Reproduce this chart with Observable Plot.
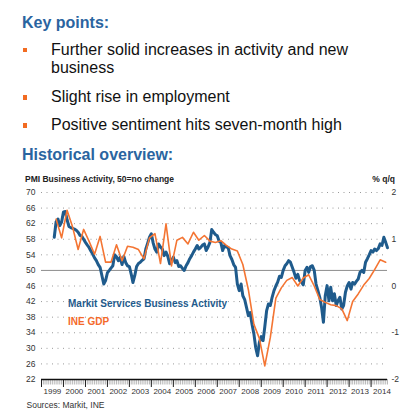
<!DOCTYPE html>
<html><head><meta charset="utf-8">
<script src="https://cdn.jsdelivr.net/npm/d3@7"></script>
<script src="https://cdn.jsdelivr.net/npm/@observablehq/plot@0.6"></script>
<style>
html,body{margin:0;padding:0;background:#fff;}
body{width:418px;height:420px;position:relative;overflow:hidden;font-family:"Liberation Sans",Arial,Helvetica,sans-serif;}
.t{position:absolute;white-space:nowrap;}
.h{font-size:16px;line-height:16px;font-weight:bold;color:#2a64a0;left:22px;}
.b{font-size:16px;line-height:16px;color:#111;left:51px;}
.sq{position:absolute;left:22.5px;width:4.5px;height:4.5px;background:#f26b21;}
.s{font-size:8.5px;line-height:8.5px;color:#222;}
.lg{font-size:10px;line-height:10px;font-weight:bold;left:68px;}
#chart{position:absolute;left:0;top:170px;}
</style></head><body>
<div class="t h" style="top:14.5px">Key points:</div>
<div class="sq" style="top:47.8px"></div>
<div class="t b" style="top:41.5px">Further solid increases in activity and new</div>
<div class="t b" style="top:59.8px">business</div>
<div class="sq" style="top:95px"></div>
<div class="t b" style="top:88.5px">Slight rise in employment</div>
<div class="sq" style="top:123.4px"></div>
<div class="t b" style="top:117px">Positive sentiment hits seven-month high</div>
<div class="t h" style="top:146.5px">Historical overview:</div>
<div class="t s" style="top:175.3px;left:25px;font-weight:bold">PMI Business Activity, 50=no change</div>
<div class="t s" style="top:175.3px;right:23px;font-weight:bold">% q/q</div>
<div id="chart"></div>
<div class="t lg" style="top:298.8px;color:#1f5b8c">Markit Services Business Activity</div>
<div class="t lg" style="top:317.2px;color:#f46a2a">INE GDP</div>
<div class="t s" style="top:401px;left:26.5px;color:#333">Sources: Markit, INE</div>
<script>
// Markit Spain Services PMI Business Activity, monthly from Aug 1999 to Oct 2014
const pmiValues = [
  58.5, 62.5, 63.2, 61.5, 62.4,
  65.0, 65.1, 63.0, 61.3, 61.0, 60.8, 60.6, 60.3, 59.8, 59.0, 58.8, 58.0,
  57.2, 56.5, 55.9, 55.0, 54.2, 53.2, 52.5, 51.5, 50.8, 48.7, 46.5, 47.4,
  49.4, 50.0, 50.6, 51.2, 54.0, 53.5, 52.5, 53.4, 51.5, 53.6, 52.0, 51.2,
  51.0, 49.0, 46.9, 48.7, 51.0, 51.8, 52.1, 52.6, 53.0, 55.5, 57.0, 58.5,
  59.4, 57.0, 55.5, 54.7, 56.8, 56.0, 55.5, 53.8, 54.7, 53.6, 51.7, 52.5,
  53.4, 52.0, 52.5, 51.0, 51.2, 50.5, 50.0, 51.2, 52.0, 53.0, 53.8, 54.7,
  55.5, 56.4, 55.5, 55.9, 56.5, 56.8, 55.1, 56.0, 57.2, 60.5, 59.8, 59.2,
  58.9, 57.5, 57.2, 55.1, 56.4, 56.0, 55.9, 53.8, 52.8, 51.5, 50.8, 46.5,
  44.8, 46.5, 43.5, 42.5, 40.5, 38.4, 39.2, 36.2, 33.7, 30.2, 28.1, 31.5,
  33.0, 32.0, 35.5, 39.7, 41.4, 41.0, 43.1, 44.8, 46.0, 47.0, 48.5, 48.2,
  50.0, 51.2, 51.7, 52.5, 52.1, 50.8, 49.5, 48.0, 49.0, 47.4, 47.0, 46.3,
  50.0, 50.8, 49.5, 51.0, 51.2, 50.0, 46.5, 44.8, 43.1, 40.5, 36.7, 43.5,
  46.1, 42.2, 45.7, 42.2, 44.0, 41.0, 42.2, 43.1, 40.1, 41.0, 44.4, 46.0,
  46.9, 45.2, 46.9, 46.5, 47.2, 47.8, 49.5, 50.0, 49.5, 52.1, 53.0, 54.0,
  55.1, 54.7, 55.5, 55.1, 55.6, 56.8, 56.4, 58.5, 57.2, 55.8
];
// INE GDP % q/q, quarterly Q3 1999 .. Q3 2014
const gdpValues = [
  1.43, 1.03,
  1.62, 1.26, 0.78, 1.21,
  0.96, 0.68, 1.06, 0.51,
  0.51, 0.88, 0.54, 0.85,
  0.83, 0.78, 0.58, 1.03,
  1.12, 0.48, 1.33, 0.43,
  0.98, 1.04, 0.90, 1.15,
  0.98, 1.08, 0.96, 0.93,
  0.97, 0.87, 0.79, 0.75,
  0.46, -0.08, -0.82, -1.12,
  -1.71, -1.10, -0.26, -0.04,
  0.12, 0.18, 0.00, 0.17,
  0.24, 0.00, -0.29, -0.35,
  -0.40, -0.42, -0.49, -0.74,
  -0.33, -0.17, 0.02, 0.16,
  0.35, 0.56, 0.51
];
const leftTicks = [22, 26, 30, 34, 38, 42, 46, 50, 54, 58, 62, 66, 70];
const rightTicks = [-2, -1, 0, 1, 2];
const yearLabels = d3.range(1999, 2015);

// right axis (% q/q) mapped onto the PMI scale: 0 -> 46, 1 point -> 12 index points
const toLeft = g => 46 + 12 * g;
const fromLeft = v => Math.round((v - 46) / 12);

const pmi = pmiValues.map((v, i) => ({date: new Date(Date.UTC(1999, 7 + i, 1)), value: v}));
const gdp = gdpValues.map((v, i) => ({date: new Date(Date.UTC(1999, 8 + 3 * i, 1)), value: v, left: toLeft(v)}));

const x0 = new Date(Date.UTC(1999, 0, 1)), x1 = new Date(Date.UTC(2014, 9, 1));
const months = d3.utcMonth.range(x0, new Date(Date.UTC(2014, 9, 2)));
const years = yearLabels.map(y => new Date(Date.UTC(y, 0, 1)));
const midYears = yearLabels.map(y => new Date(Date.UTC(y, 6, 1)));

const chart = Plot.plot({
  width: 418, height: 232,
  marginTop: 22, marginBottom: 23, marginLeft: 41, marginRight: 31,
  style: {fontFamily: "Liberation Sans, Arial, sans-serif", background: "transparent", overflow: "visible"},
  x: {type: "utc", domain: [x0, x1]},
  y: {domain: [22, 70]},
  marks: [
    Plot.ruleY(leftTicks.filter(d => d !== 50 && d !== 22), {stroke: "#9a9a9a", strokeDasharray: "1,4.5", strokeWidth: 1}),
    Plot.ruleY([50], {stroke: "#8c8c8c", strokeWidth: 1}),
    Plot.axisY(leftTicks, {anchor: "left", tickSize: 0, tickPadding: 6, fontSize: 8.5, color: "#333", label: null}),
    Plot.axisY(rightTicks.map(toLeft), {anchor: "right", tickSize: 0, tickPadding: 4, tickFormat: v => String(fromLeft(v)), fontSize: 8.5, color: "#333", label: null}),
    Plot.axisX(months, {tickSize: 5.5, stroke: "#8a8a8a", strokeWidth: 0.6, tickFormat: () => "", label: null}),
    Plot.axisX(years, {tickSize: 8, stroke: "#222", strokeWidth: 1, tickFormat: () => "", label: null}),
    Plot.axisX(midYears, {tickSize: 0, tickPadding: 9, tickFormat: "%Y", fontSize: 8, color: "#333", label: null}),
    Plot.ruleY([22], {stroke: "#111", strokeWidth: 1.5}),
    Plot.lineY(pmi, {x: "date", y: "value", stroke: "#1f5b8c", strokeWidth: 3, strokeLinejoin: "round"}),
    Plot.lineY(gdp, {x: "date", y: "left", stroke: "#f47533", strokeWidth: 1.6, strokeLinejoin: "round"})
  ]
});
document.getElementById("chart").appendChild(chart);
</script>
</body></html>
